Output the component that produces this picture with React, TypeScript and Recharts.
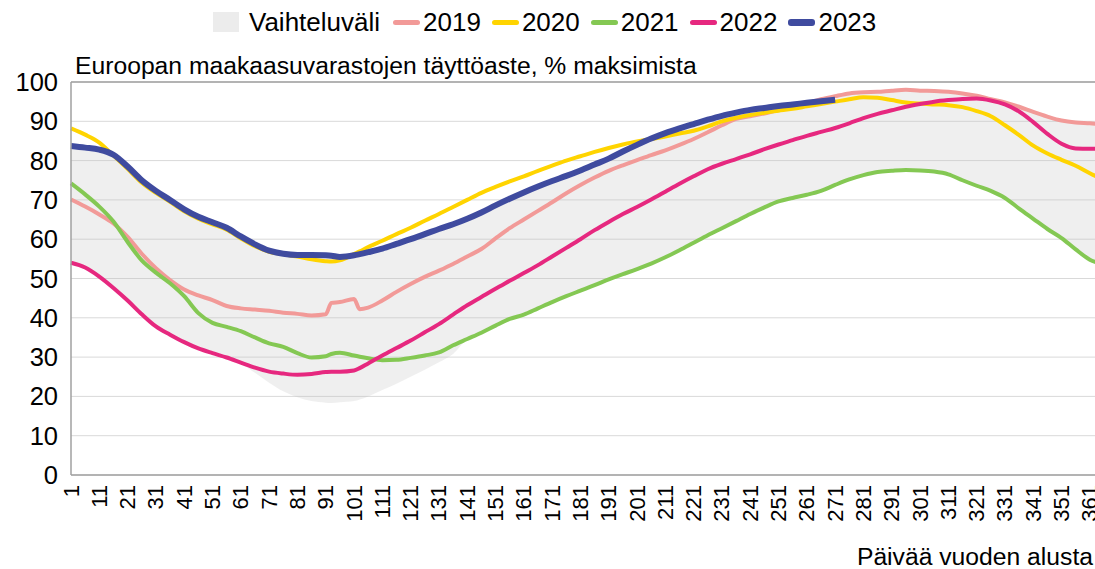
import {
  ComposedChart,
  Line,
  Area,
  XAxis,
  YAxis,
  CartesianGrid,
  Legend,
  ReferenceLine,
} from "recharts";

const FONT = '"Liberation Sans", Arial, Helvetica, sans-serif';

const TITLE = "Euroopan maakaasuvarastojen täyttöaste, % maksimista";
const X_LABEL = "Päivää vuoden alusta";

// day of year
const days = [
  1, 6, 11, 16, 21, 26, 31, 36, 41, 46, 51, 56, 61, 66, 71, 76, 81, 86, 91,
  93, 96, 101, 103,
  106, 111, 116, 121, 126, 131, 136, 141, 146, 151,
  156, 161, 166, 171, 176, 181, 186, 191, 196, 201,
  206, 211, 216, 221, 226, 231, 236, 241, 246, 251,
  256, 261, 266, 271, 276, 281, 286, 291, 296, 301,
  306, 311, 316, 321, 326, 331, 336, 341, 346, 351,
  356, 361, 366,
];

const xTicks = [
  1, 11, 21, 31, 41, 51, 61, 71, 81, 91, 101, 111, 121, 131, 141, 151, 161,
  171, 181, 191, 201, 211, 221, 231, 241, 251, 261, 271, 281, 291, 301, 311,
  321, 331, 341, 351, 361,
];
const yTicks = [0, 10, 20, 30, 40, 50, 60, 70, 80, 90, 100];

const s2019 = [
  70.1, 68.3, 66.3, 64.0, 60.6, 56.3, 52.6, 49.6, 47.2, 45.7, 44.5, 43.0, 42.4, 42.1, 41.8, 41.3, 41.0, 40.6, 40.9,
  43.8, 44.0, 44.8, 42.2,
  42.6, 44.4, 46.6, 48.6, 50.4, 52.0, 53.7, 55.6, 57.5, 60.2,
  62.8, 65.0, 67.2, 69.4, 71.7, 73.8, 75.7, 77.4, 78.8, 80.1,
  81.4, 82.6, 84.0, 85.5, 87.2, 89.0, 90.6, 91.3, 92.0, 92.9,
  93.7, 94.6, 95.6, 96.4, 97.1, 97.4, 97.5, 97.8, 98.0, 97.8,
  97.7, 97.5, 97.1, 96.5, 95.6, 94.8, 93.7, 92.4, 91.2, 90.2,
  89.7, 89.5, 89.2,
];

const s2020 = [
  88.2, 86.6, 84.6, 81.3, 77.9, 74.4, 71.8, 69.5, 67.1, 65.2, 63.8, 62.4, 60.2, 58.2, 56.8, 56.2, 55.6, 54.9, 54.4,
  54.3, 54.6, 56.2, 56.9,
  58.0, 59.6, 61.3, 62.9, 64.7, 66.4, 68.2, 70.0, 71.8, 73.3,
  74.7, 76.0, 77.4, 78.7, 80.0, 81.1, 82.2, 83.2, 84.1, 84.9,
  85.5, 86.1, 86.9, 87.6, 88.7, 90.0, 90.9, 91.6, 92.2, 92.7,
  93.2, 93.8, 94.4, 95.0, 95.6, 96.1, 96.0, 95.4, 94.8, 94.5,
  94.3, 94.1, 93.6, 92.6, 91.3, 89.0, 86.5, 83.8, 81.8, 80.2,
  78.7, 76.8, 75.0,
];

const s2021 = [
  74.2, 71.4, 68.3, 64.5, 59.3, 54.6, 51.5, 48.8, 45.5, 41.2, 38.7, 37.7, 36.6, 35.0, 33.5, 32.6, 31.0, 29.9, 30.2,
  30.8, 31.1, 30.4, 30.1,
  29.7, 29.2, 29.3, 29.8, 30.4, 31.2, 33.0, 34.6, 36.2, 38.0,
  39.7, 40.8, 42.4, 44.0, 45.5, 46.9, 48.3, 49.8, 51.1, 52.4,
  53.8, 55.4, 57.2, 59.1, 61.0, 62.8, 64.6, 66.4, 68.1, 69.6,
  70.5, 71.3, 72.3, 73.8, 75.2, 76.3, 77.1, 77.4, 77.6, 77.5,
  77.2, 76.5, 75.0, 73.6, 72.3, 70.5, 67.8, 65.2, 62.6, 60.3,
  57.4, 54.8, 53.5,
];

const s2022 = [
  54.0, 52.8, 50.5, 47.6, 44.4, 40.9, 37.8, 35.7, 33.8, 32.2, 31.0, 29.9, 28.6, 27.3, 26.3, 25.8, 25.5, 25.7, 26.2,
  26.3, 26.3, 26.6, 27.2,
  28.4, 30.4, 32.3, 34.2, 36.3, 38.4, 40.8, 43.2, 45.3, 47.4,
  49.4, 51.4, 53.4, 55.6, 57.8, 60.0, 62.3, 64.4, 66.4, 68.2,
  70.1, 72.1, 74.1, 76.0, 77.8, 79.2, 80.4, 81.6, 82.9, 84.1,
  85.2, 86.3, 87.3, 88.3, 89.5, 90.8, 91.9, 92.8, 93.7, 94.4,
  95.0, 95.4, 95.7, 95.8, 95.3, 94.3, 92.5, 89.8, 86.8, 84.3,
  83.1, 83.0, 83.2,
];

const s2023 = [
  83.7, 83.3, 82.8, 81.5, 78.5, 75.0, 72.3, 70.0, 67.6, 65.7, 64.3, 62.9, 60.7, 58.7, 57.1, 56.3, 56.0, 56.0, 55.9,
  55.8, 55.5, 55.9, 56.2,
  56.7, 57.6, 58.8, 60.0, 61.3, 62.6, 63.8, 65.2, 66.8, 68.6,
  70.3, 71.9, 73.4, 74.8, 76.1, 77.5, 79.0, 80.5, 82.3, 84.0,
  85.6, 87.0, 88.2, 89.3, 90.4, 91.4, 92.2, 92.9, 93.4, 93.9,
  94.3, 94.7, 95.1, 95.5, null, null, null, null, null, null,
  null, null, null, null, null, null, null, null, null, null,
  null, null, null,
];

// Vaihteluväli (range band) edges
const bandLow = [
  54.0, 52.8, 50.5, 47.6, 44.4, 40.9, 37.8, 35.7, 33.8, 32.2, 31.0, 29.9, 28.4, 26.0, 23.5, 21.3, 19.8, 18.8, 18.4,
  18.3, 18.5, 18.8, 19.2,
  20.0, 21.6, 23.2, 25.0, 26.8, 28.7, 30.8, 34.6, 36.2, 38.0,
  39.7, 40.8, 42.4, 44.0, 45.5, 46.9, 48.3, 49.8, 51.1, 52.4,
  53.8, 55.4, 57.2, 59.1, 61.0, 62.8, 64.6, 66.4, 68.1, 69.6,
  70.5, 71.3, 72.3, 73.8, 75.2, 76.3, 77.1, 77.4, 77.6, 77.5,
  77.2, 76.5, 75.0, 73.6, 72.3, 70.5, 67.8, 65.2, 62.6, 60.3,
  57.4, 54.8, 53.5,
];

const bandHigh = [
  83.7, 83.3, 82.8, 81.5, 78.5, 75.0, 72.3, 70.0, 67.6, 65.7, 64.3, 62.9, 60.7, 58.7, 57.1, 56.3, 56.0, 56.0, 55.9,
  55.8, 55.5, 55.9, 56.2,
  56.7, 57.6, 58.8, 60.0, 61.3, 62.6, 63.8, 65.2, 66.8, 68.6,
  70.3, 71.9, 73.4, 74.8, 76.1, 77.5, 79.0, 80.5, 82.3, 84.0,
  85.6, 87.0, 88.2, 89.3, 90.4, 91.4, 92.2, 92.9, 93.4, 93.9,
  94.3, 94.7, 95.6, 96.4, 97.1, 97.4, 97.5, 97.8, 98.0, 97.8,
  97.7, 97.5, 97.1, 96.5, 95.6, 94.8, 93.7, 92.4, 91.2, 90.2,
  89.7, 89.5, 89.2,
];

const series = [
  { key: "y2019", name: "2019", color: "#f29a98", width: 4 },
  { key: "y2020", name: "2020", color: "#ffd400", width: 4 },
  { key: "y2021", name: "2021", color: "#84c853", width: 4 },
  { key: "y2022", name: "2022", color: "#e6287f", width: 4 },
  { key: "y2023", name: "2023", color: "#3f4b9f", width: 6 },
];

const data = days.map((day, i) => ({
  day,
  band: [bandLow[i], bandHigh[i]],
  y2019: s2019[i],
  y2020: s2020[i],
  y2021: s2021[i],
  y2022: s2022[i],
  y2023: s2023[i],
}));

function LegendBox() {
  return (
    <div style={{ position: "relative", width: 1095, height: 82, fontFamily: FONT, color: "#000" }}>
      <div
        style={{
          position: "absolute",
          left: 213,
          top: 9,
          display: "flex",
          alignItems: "center",
          fontSize: 26,
          lineHeight: "26px",
          whiteSpace: "nowrap",
        }}
      >
        <span style={{ width: 26, height: 20, background: "#ececec", marginRight: 10 }} />
        <span style={{ marginRight: 13 }}>Vaihteluväli</span>
        {series.map((s) => (
          <span key={s.key} style={{ display: "flex", alignItems: "center", marginRight: 11 }}>
            <span
              style={{
                width: 27,
                height: s.width + 1,
                borderRadius: 3,
                background: s.color,
                marginRight: 3,
              }}
            />
            <span>{s.name}</span>
          </span>
        ))}
      </div>
      <div
        style={{
          position: "absolute",
          left: 75,
          top: 54,
          fontSize: 24.7,
          lineHeight: "24px",
          whiteSpace: "nowrap",
        }}
      >
        {TITLE}
      </div>
    </div>
  );
}

function DayTick({ x, y, payload }: any) {
  return (
    <text
      x={x}
      y={y}
      transform={`rotate(-90, ${x}, ${y})`}
      textAnchor="end"
      dominantBaseline="central"
      fontSize={22}
      fontFamily={FONT}
      fill="#000"
    >
      {payload.value}
    </text>
  );
}

function AxisTitle({ viewBox }: any) {
  return (
    <text
      x={viewBox.x + viewBox.width - 11}
      y={viewBox.y + viewBox.height - 4}
      textAnchor="end"
      fontSize={24.7}
      fontFamily={FONT}
      fill="#000"
    >
      {X_LABEL}
    </text>
  );
}

export default function App() {
  return (
    <div
      style={{
        position: "fixed",
        left: 0,
        top: 0,
        width: 1095,
        height: 569,
        overflow: "hidden",
        background: "#fff",
      }}
    >
      <ComposedChart
        width={1110}
        height={569}
        data={data}
        margin={{ top: 0, right: 6, bottom: 0, left: 0 }}
      >
        <CartesianGrid vertical={false} stroke="#d9d9d9" />
        <XAxis
          dataKey="day"
          type="number"
          domain={[1, 366]}
          ticks={xTicks}
          interval={0}
          tickLine={false}
          tickMargin={4}
          height={94}
          stroke="#a0a0a0"
          strokeWidth={1.5}
          tick={<DayTick />}
          label={<AxisTitle />}
        />
        <YAxis
          domain={[0, 100]}
          ticks={yTicks}
          interval={0}
          width={71}
          tickLine={false}
          tickSize={6}
          tickMargin={7}
          stroke="#a0a0a0"
          strokeWidth={1.5}
          tick={{ fontSize: 25.5, fill: "#000", fontFamily: FONT }}
        />
        <ReferenceLine y={100} stroke="#a0a0a0" strokeWidth={1.5} />
        <Legend
          verticalAlign="top"
          content={<LegendBox />}
          wrapperStyle={{ top: 0, left: 0, width: 1095, height: 82 }}
        />
        <Area
          dataKey="band"
          name="Vaihteluväli"
          type="monotone"
          stroke="none"
          fill="#bfbfbf"
          fillOpacity={0.25}
          activeDot={false}
          isAnimationActive={false}
        />
        {series.map((s) => (
          <Line
            key={s.key}
            dataKey={s.key}
            name={s.name}
            type="monotone"
            stroke={s.color}
            strokeWidth={s.width}
            dot={false}
            activeDot={false}
            isAnimationActive={false}
          />
        ))}
      </ComposedChart>
    </div>
  );
}
